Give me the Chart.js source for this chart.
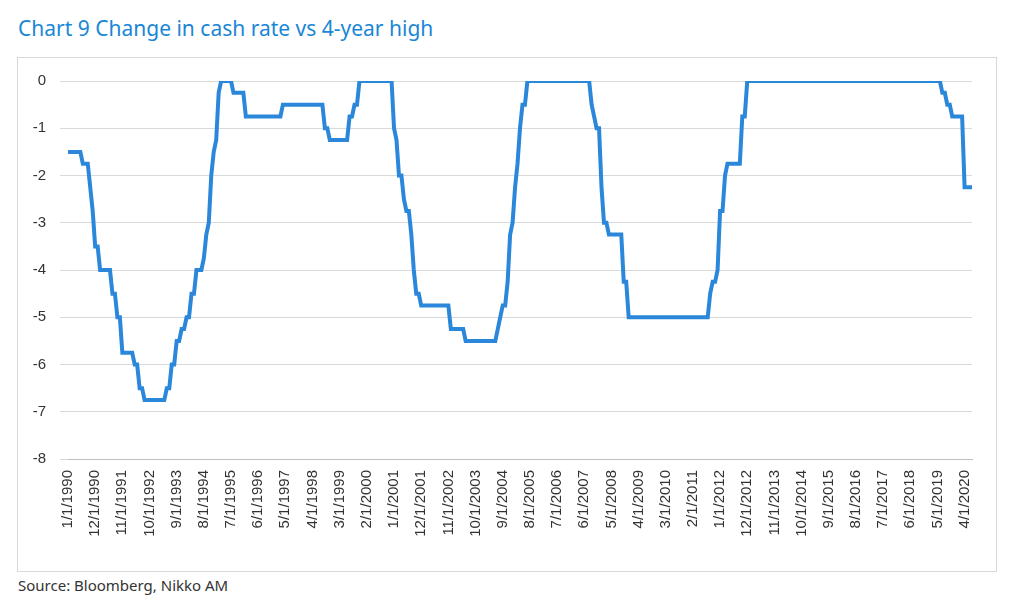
<!DOCTYPE html>
<html><head><meta charset="utf-8">
<script src="https://cdn.jsdelivr.net/npm/chart.js@4"></script>
<style>
body{margin:0;background:#fff;font-family:"Noto Sans",sans-serif;}
#title{position:absolute;left:18px;top:14px;font-size:21px;color:#1a86d6;}
#box{position:absolute;left:17px;top:57px;width:980px;height:515px;border:1px solid #d9d9d9;box-sizing:border-box;}
#src{position:absolute;left:18px;top:575px;font-size:15px;color:#333;}
</style></head><body>
<div id="title">Chart 9 Change in cash rate vs 4-year high</div>
<div id="box"><canvas id="c"></canvas></div>
<div id="src">Source: Bloomberg, Nikko AM</div>
<script>
// monthly series from Jan 1990; breakMonths = month index where the value changes
const breakMonths = [
  0, 6, 9, 10, 11, 13, 18, 20, 22, 27,
  29, 31, 40, 42, 44, 46, 48, 50, 52, 55,
  56, 57, 58, 59, 60, 61, 62, 67, 72, 87,
  104, 106, 114, 116, 118, 132, 133, 134, 136, 137,
  139, 140, 141, 143, 155, 161, 174, 175, 176, 178,
  179, 180, 181, 182, 183, 184, 186, 212, 213, 214,
  216, 217, 219, 225, 227, 260, 261, 263, 264, 266,
  267, 273, 275, 354, 356, 358, 363];
const breakValues = [
  -1.5, -1.75, -2.25, -2.75, -3.5, -4, -4.5, -5, -5.75, -6,
  -6.5, -6.75, -6.5, -6, -5.5, -5.25, -5, -4.5, -4, -3.75,
  -3.25, -3, -2, -1.5, -1.25, -0.25, 0, -0.25, -0.75, -0.5,
  -1, -1.25, -0.75, -0.5, 0, -1, -1.25, -2, -2.5, -2.75,
  -3.25, -4, -4.5, -4.75, -5.25, -5.5, -5.25, -5, -4.75, -4.25,
  -3.25, -3, -2.25, -1.75, -1, -0.5, 0, -0.5, -0.75, -1,
  -2.25, -3, -3.25, -4.25, -5, -4.5, -4.25, -4, -2.75, -2,
  -1.75, -0.75, 0, -0.25, -0.5, -0.75, -2.25];
const totalMonths = 367;

const labels = [], values = [];
let b = 0;
for (let i = 0; i < totalMonths; i++) {
  while (b + 1 < breakMonths.length && breakMonths[b + 1] <= i) b++;
  labels.push(((i % 12) + 1) + '/1/' + (1990 + Math.floor(i / 12)));
  values.push(breakValues[b]);
}

new Chart(document.getElementById('c'), {
  type: 'line',
  data: { labels: labels, datasets: [{ data: values, borderColor: '#2b87d9', borderWidth: 4, pointRadius: 0, tension: 0 }] },
  options: {
    responsive: true, maintainAspectRatio: false, animation: false,
    layout: { padding: { top: 18, right: 24, left: 0, bottom: 0 } },
    plugins: { legend: { display: false }, tooltip: { enabled: false } },
    scales: {
      x: {
        grid: { display: false }, border: { color: '#bfbfbf' },
        afterFit: s => { s.height = 112; },
        ticks: { autoSkip: false, maxRotation: 90, minRotation: 90, color: '#333', font: { size: 15 },
          callback: (v, i) => i % 11 === 0 ? labels[i] : null }
      },
      y: {
        min: -8, max: 0,
        afterFit: s => { s.width = 50; },
        grid: { color: '#d9d9d9' }, border: { display: false },
        ticks: { stepSize: 1, color: '#333', font: { size: 15 }, padding: 14 }
      }
    }
  }
});
</script>
</body></html>
